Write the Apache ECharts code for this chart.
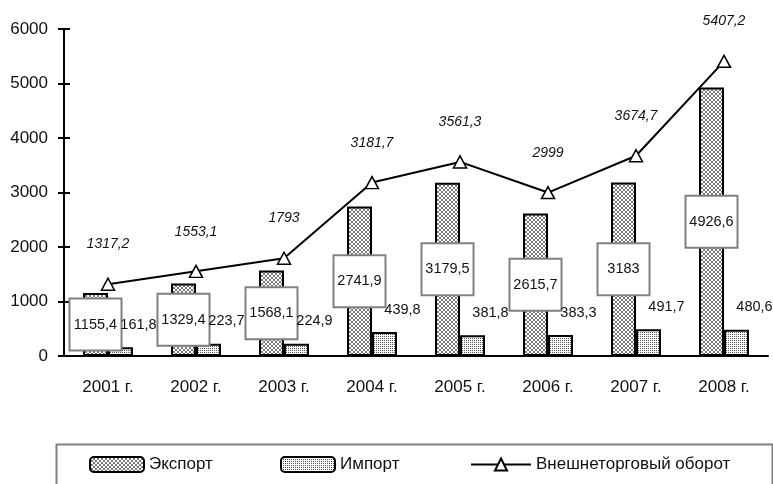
<!DOCTYPE html>
<html>
<head>
<meta charset="utf-8">
<script src="https://cdn.jsdelivr.net/npm/echarts@6/dist/echarts.min.js"></script>
<style>
  html, body { margin: 0; padding: 0; background: #fff; }
  #chart { width: 773px; height: 484px; }
</style>
</head>
<body>
<div id="chart"></div>
<script>
  const years = ['2001 г.', '2002 г.', '2003 г.', '2004 г.', '2005 г.', '2006 г.', '2007 г.', '2008 г.']
  const exportValues = [1155.4, 1329.4, 1568.1, 2741.9, 3179.5, 2615.7, 3183, 4926.6]
  const importValues = [161.8, 223.7, 224.9, 439.8, 381.8, 383.3, 491.7, 480.6]
  const turnoverValues = [1317.2, 1553.1, 1793, 3181.7, 3561.3, 2999, 3674.7, 5407.2]
  const seriesNames = ['Экспорт', 'Импорт', 'Внешнеторговый оборот']

  const font = "'Liberation Sans', Arial, sans-serif"

  // decimal comma like in the source
  const fmt = v => String(v).replace('.', ',')

  // small tiled fills for the bars
  function makePattern(size, dots, ink) {
    const c = document.createElement('canvas')
    c.width = size
    c.height = size
    const ctx = c.getContext('2d')
    ctx.fillStyle = '#fff'
    ctx.fillRect(0, 0, size, size)
    ctx.fillStyle = ink
    dots.forEach(([x, y]) => ctx.fillRect(x, y, 1, 1))
    return c
  }
  const exportFill = makePattern(4, [[1, 0], [2, 0], [0, 1], [3, 1], [0, 2], [3, 2], [1, 3], [2, 3]], '#7a7a7a')
  const importFill = makePattern(2, [[0, 0]], '#555')

  const chart = echarts.init(document.getElementById('chart'))

  const legendText = { fontSize: 17, fontFamily: font, color: '#111' }

  const option = {
    animation: false,
    textStyle: { fontFamily: font, color: '#111' },
    grid: { left: 64, right: 5, top: 29, bottom: 128 },
    graphic: [
      {
        type: 'rect',
        left: 54,
        top: 442,
        shape: { width: 716, height: 60 },
        style: { fill: 'none', stroke: '#808080', lineWidth: 2 }
      }
    ],
    legend: [
      { data: [seriesNames[0]], left: 89, top: 456, padding: 0, itemGap: 0, itemWidth: 54, itemHeight: 15, textStyle: legendText },
      { data: [seriesNames[1]], left: 280, top: 456, padding: 0, itemGap: 0, itemWidth: 54, itemHeight: 15, textStyle: legendText },
      { data: [seriesNames[2]], left: 470, top: 456, padding: 0, itemGap: 0, itemWidth: 60, itemHeight: 15, textStyle: legendText }
    ],
    xAxis: [
      {
        type: 'category',
        data: years,
        axisLine: { lineStyle: { color: '#000', width: 2 } },
        axisTick: { length: 6, lineStyle: { color: '#000', width: 2 } },
        axisLabel: { fontSize: 17, color: '#111', margin: 23, fontFamily: font }
      },
      {
        type: 'category',
        data: years,
        position: 'bottom',
        axisLine: { show: false },
        axisTick: { inside: true, length: 6, lineStyle: { color: '#000', width: 2 } },
        axisLabel: { show: false }
      }
    ],
    yAxis: [
      {
        type: 'value',
        min: 0,
        max: 6000,
        interval: 1000,
        axisLine: { show: true, lineStyle: { color: '#000', width: 2 } },
        axisTick: { show: true, length: 6, lineStyle: { color: '#000', width: 2 } },
        axisLabel: { fontSize: 17, color: '#111', margin: 16, fontFamily: font, formatter: v => String(v) },
        splitLine: { show: false }
      },
      {
        type: 'value',
        position: 'left',
        min: 0,
        max: 6000,
        interval: 1000,
        axisLine: { show: false },
        axisTick: { show: true, inside: true, length: 6, lineStyle: { color: '#000', width: 2 } },
        axisLabel: { show: false },
        splitLine: { show: false }
      }
    ],
    series: [
      {
        name: seriesNames[0],
        type: 'bar',
        data: exportValues,
        barWidth: 25,
        barGap: '0%',
        itemStyle: { color: { image: exportFill, repeat: 'repeat' }, borderColor: '#000', borderWidth: 2 },
        label: {
          show: true,
          position: 'inside',
          formatter: p => fmt(p.value),
          fontSize: 14.5,
          color: '#111',
          fontFamily: font,
          backgroundColor: '#fff',
          borderColor: '#808080',
          borderWidth: 2,
          width: 42,
          height: 18,
          lineHeight: 18,
          align: 'center',
          padding: [16, 4]
        },
        z: 2
      },
      {
        name: seriesNames[1],
        type: 'bar',
        data: importValues,
        barWidth: 25,
        itemStyle: { color: { image: importFill, repeat: 'repeat' }, borderColor: '#000', borderWidth: 2 },
        label: {
          show: true,
          position: 'top',
          offset: [18, -10],
          formatter: p => fmt(p.value),
          fontSize: 14.5,
          color: '#111',
          fontFamily: font
        },
        z: 2
      },
      {
        name: seriesNames[2],
        type: 'line',
        data: turnoverValues,
        symbol: 'triangle',
        symbolSize: [13, 12],
        lineStyle: { color: '#000', width: 2 },
        itemStyle: { color: '#fff', borderColor: '#000', borderWidth: 1.5 },
        label: {
          show: true,
          position: 'top',
          distance: 26,
          formatter: p => fmt(p.value),
          fontSize: 14,
          fontStyle: 'italic',
          color: '#111',
          fontFamily: font
        },
        z: 3
      }
    ]
  }

  chart.setOption(option)
</script>
</body>
</html>
